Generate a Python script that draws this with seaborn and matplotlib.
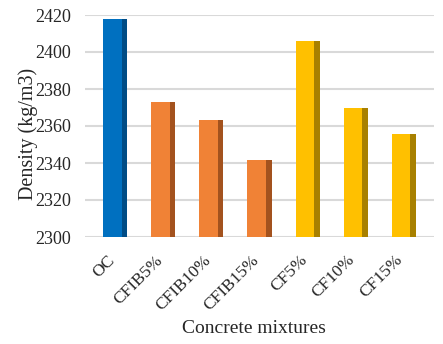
import matplotlib
matplotlib.use("Agg")
import matplotlib.pyplot as plt
from matplotlib.patches import Rectangle
from matplotlib.transforms import ScaledTranslation
import seaborn as sns
import pandas as pd

mixtures = ["OC", "CFIB5%", "CFIB10%", "CFIB15%", "CF5%", "CF10%", "CF15%"]
density = [2418, 2373, 2363.5, 2341.7, 2405.7, 2369.8, 2355.8]
face_colors = ["#0070C0", "#F08236", "#F08236", "#F08236", "#FFC000", "#FFC000", "#FFC000"]
side_colors = ["#004C85", "#A3521E", "#A3521E", "#A3521E", "#A88000", "#A88000", "#A88000"]

df = pd.DataFrame({"Mixture": mixtures, "Density": density})

sns.set_style("white")
plt.rcParams["font.family"] = ["Liberation Serif", "DejaVu Serif"]

fig = plt.figure(figsize=(4.43, 3.44), dpi=100)
ax = fig.add_axes([85 / 443, 1 - 237 / 344, 349 / 443, 222 / 344])

sns.barplot(data=df, x="Mixture", y="Density", hue="Mixture", palette=face_colors,
            width=0.5, saturation=1, linewidth=0, legend=False, ax=ax, zorder=3)

# darker right-hand face to mimic the Excel 3D look
for p, c in zip(ax.patches, side_colors):
    w = p.get_width() * 0.21
    ax.add_patch(Rectangle((p.get_x() + p.get_width() - w, p.get_y()), w, p.get_height(),
                           facecolor=c, edgecolor="none", zorder=4))

ax.set_ylim(2300, 2420)
ax.set_xlim(-0.635, 6.635)
ax.set_yticks(range(2300, 2421, 20))
ax.grid(axis="y", color="#D9D9D9", linewidth=1.5, zorder=0)
for s in ax.spines.values():
    s.set_visible(False)
ax.tick_params(axis="both", length=0)
ax.tick_params(axis="y", pad=10, labelsize=13)
ax.tick_params(axis="x", pad=15, labelsize=12.5)
shift = ScaledTranslation(-3 / 100, 0, fig.dpi_scale_trans)
for lbl in ax.get_xticklabels():
    lbl.set_rotation(45)
    lbl.set_ha("right")
    lbl.set_va("center")
    lbl.set_rotation_mode("anchor")
    lbl.set_transform(lbl.get_transform() + shift)

ax.set_xlabel("Concrete mixtures", fontsize=14)
ax.set_ylabel("Density (kg/m3)", fontsize=14.5)
ax.xaxis.set_label_coords(0.484, -0.374)
ax.yaxis.set_label_coords(-0.135, 0.464)

fig.savefig("out.png", dpi=100)
